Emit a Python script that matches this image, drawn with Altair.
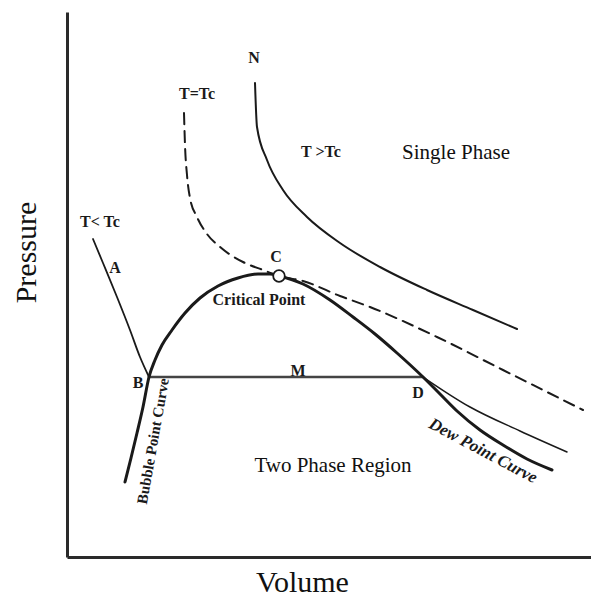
import altair as alt
import pandas as pd

# ---- data (volume / pressure in arbitrary units) ----
# Isotherm above the critical temperature (T > Tc), curve starting at N
SUPER_V = [188, 190, 200, 216, 240, 273, 313, 360, 406, 450]
SUPER_P = [474, 430, 397, 367, 340, 314, 290, 267, 247, 228]

# Critical isotherm T = Tc (dashed)
CRIT_V = [117, 118, 120, 123, 130, 140, 153, 176, 196, 212, 236, 273, 303, 370, 436, 516]
CRIT_P = [444, 412, 382, 359, 340, 323, 310, 295, 287, 281, 276, 261, 250, 220, 187, 147]

# Saturation envelope: bubble point curve -> critical point -> dew point curve
ENV_V = [58, 64, 70, 76, 82, 88, 95, 105, 118, 133, 151, 171, 191, 203, 212,
         236, 263, 286, 308, 330, 356, 373, 390, 413, 436, 460, 485]
ENV_P = [75, 99, 124, 150, 180, 197, 212, 227, 244, 259, 271, 279, 283, 283, 281,
         273, 257, 240, 223, 204, 180, 163, 146, 127, 112, 98, 87]

# Sub-critical isotherm T < Tc: liquid branch (A), plateau B-M-D, vapour branch
SUB_LIQ_V = [26, 36, 50, 63, 73, 82]
SUB_LIQ_P = [318, 294, 260, 227, 200, 180]
SUB_PLAT_V = [82, 356]
SUB_PLAT_P = [180, 180]
SUB_VAP_V = [356, 403, 453, 500]
SUB_VAP_P = [180, 150, 126, 105]

# Critical point C
CP_V = [212]
CP_P = [281]

# Labels
BOLD_TEXT = ["N", "T=Tc", "T >Tc", "T< Tc", "A", "C", "Critical Point", "B", "M", "D"]
BOLD_V = [187, 130, 254, 33, 48, 209, 192, 71, 231, 351]
BOLD_P = [499, 463, 405, 335, 289, 300, 257, 174, 186, 164]

REG_TEXT = ["Single Phase", "Two Phase Region"]
REG_V = [389, 266]
REG_P = [404, 91]

BUBBLE_TEXT = ["Bubble Point Curve"]
BUBBLE_V = [86]
BUBBLE_P = [116]

DEW_TEXT = ["Dew Point Curve"]
DEW_V = [416]
DEW_P = [106]


def curve(v, p):
    return pd.DataFrame({"v": v, "p": p, "i": list(range(len(v)))})


def labels(t, v, p):
    return pd.DataFrame({"t": t, "v": v, "p": p})


xs = alt.Scale(domain=[0, 524], nice=False, zero=False)
ys = alt.Scale(domain=[0, 545], nice=False, zero=False)

xaxis = alt.Axis(title="Volume", ticks=False, labels=False, grid=False,
                 domainWidth=3, domainColor="#2a2a2a",
                 titleFont="Liberation Serif", titleFontSize=30,
                 titleFontWeight="normal", titleColor="#111111",
                 titleX=235, titleY=34, titleAlign="center",
                 titleBaseline="alphabetic")
yaxis = alt.Axis(title="Pressure", ticks=False, labels=False, grid=False,
                 domainWidth=3, domainColor="#2a2a2a",
                 titleFont="Liberation Serif", titleFontSize=30,
                 titleFontWeight="normal", titleColor="#111111",
                 titleAngle=270, titleX=-41, titleY=240, titleAlign="center",
                 titleBaseline="middle")

X = alt.X("v:Q", scale=xs, axis=xaxis)
Y = alt.Y("p:Q", scale=ys, axis=yaxis)

INK = "#1a1a1a"


def line_layer(df, width, interp="monotone", dash=None, color=INK):
    kw = dict(strokeWidth=width, interpolate=interp, color=color,
              strokeCap="round")
    if dash:
        kw["strokeDash"] = dash
    return alt.Chart(df).mark_line(**kw).encode(x=X, y=Y, order="i:Q")


env = line_layer(curve(ENV_V, ENV_P), 3)
sup = line_layer(curve(SUPER_V, SUPER_P), 2)
crit = line_layer(curve(CRIT_V, CRIT_P), 2, dash=[11, 7])
liq = line_layer(curve(SUB_LIQ_V, SUB_LIQ_P), 1.8)
plat = line_layer(curve(SUB_PLAT_V, SUB_PLAT_P), 2.5, interp="linear", color="#444444")
vap = line_layer(curve(SUB_VAP_V, SUB_VAP_P), 1.5)

cp = alt.Chart(curve(CP_V, CP_P)).mark_point(
    shape="circle", filled=True, fill="white", stroke=INK, strokeWidth=1.8,
    size=135, opacity=1).encode(x=X, y=Y)

bold = alt.Chart(labels(BOLD_TEXT, BOLD_V, BOLD_P)).mark_text(
    font="Liberation Serif", fontSize=16, fontWeight="bold", color=INK,
    align="center", baseline="middle").encode(x=X, y=Y, text="t:N")

reg = alt.Chart(labels(REG_TEXT, REG_V, REG_P)).mark_text(
    font="Liberation Serif", fontSize=21, fontWeight="normal", color="#111111",
    align="center", baseline="middle").encode(x=X, y=Y, text="t:N")

bub = alt.Chart(labels(BUBBLE_TEXT, BUBBLE_V, BUBBLE_P)).mark_text(
    font="Liberation Serif", fontSize=15, fontWeight="bold", color=INK,
    align="center", baseline="middle", angle=280).encode(x=X, y=Y, text="t:N")

dew = alt.Chart(labels(DEW_TEXT, DEW_V, DEW_P)).mark_text(
    font="Liberation Serif", fontSize=17, fontWeight="bold", fontStyle="italic",
    color=INK, align="center", baseline="middle", angle=28).encode(x=X, y=Y, text="t:N")

chart = alt.layer(plat, liq, vap, sup, crit, env, cp, bold, reg, bub, dew).properties(
    width=524, height=545,
    autosize=alt.AutoSizeParams(type="none"),
    padding={"left": 59, "top": 4, "right": 0, "bottom": 42},
    background="white",
).configure_view(stroke=None)

chart.save("out.html", embed_options={"renderer": "svg", "actions": False})
